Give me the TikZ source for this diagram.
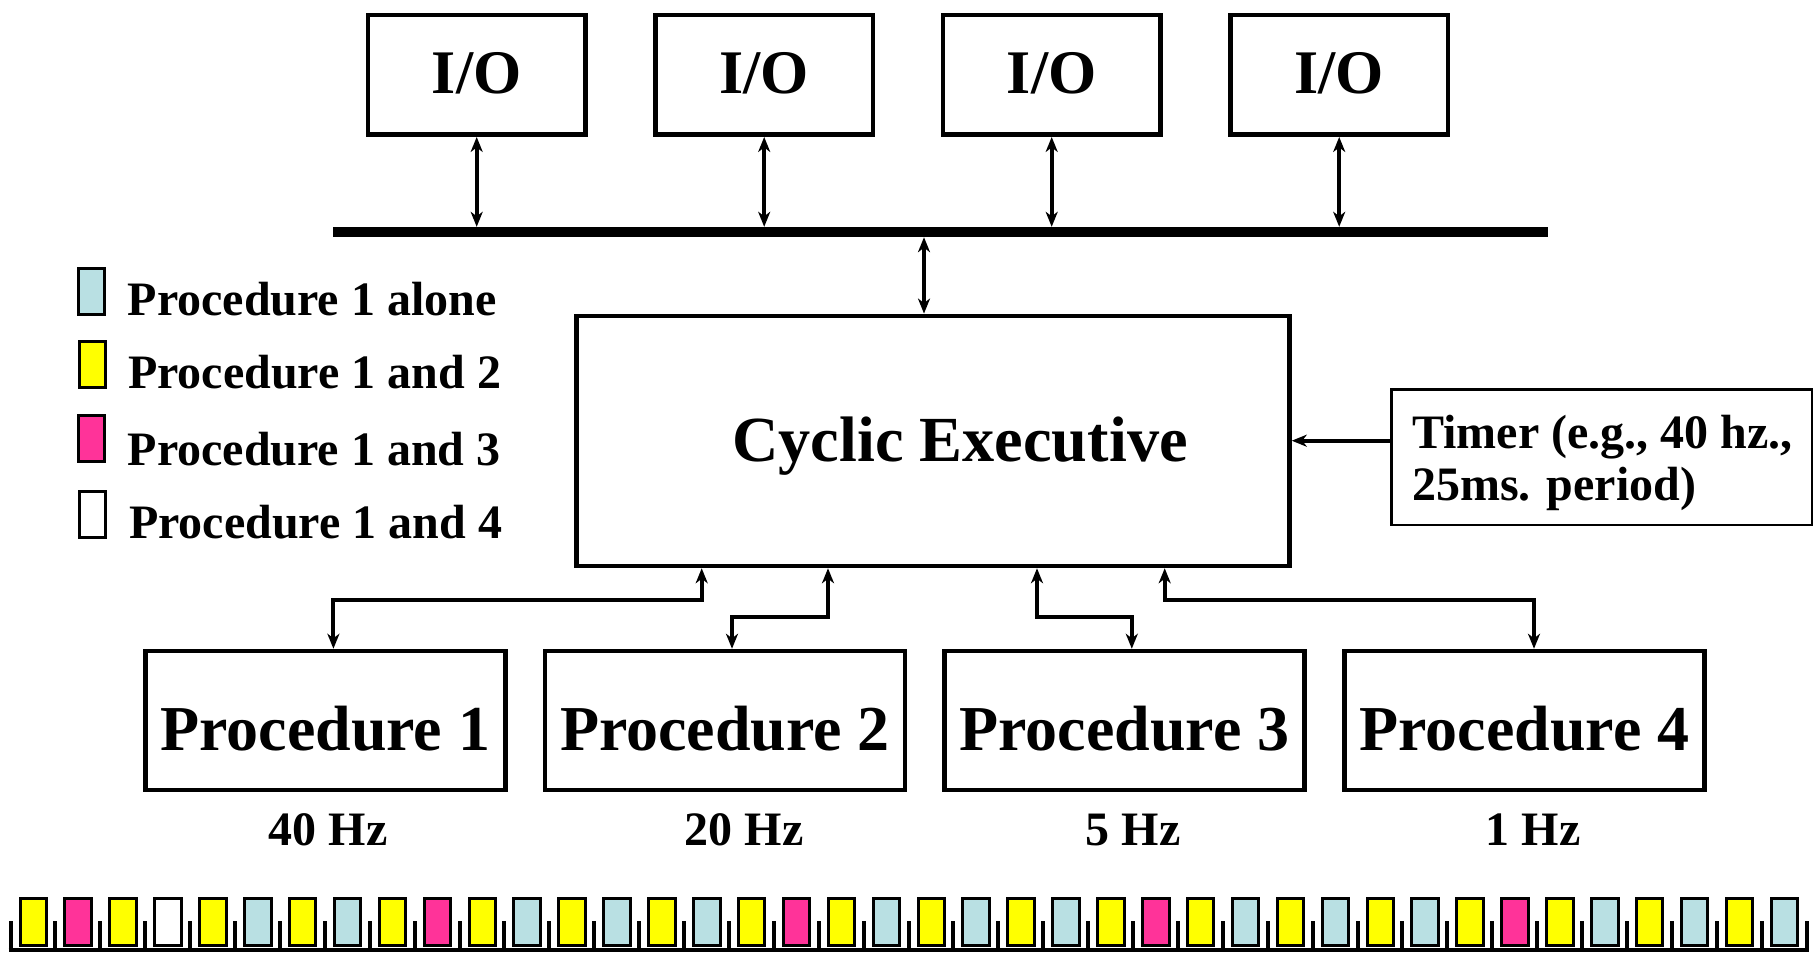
\documentclass[tikz,border=0pt]{standalone}
\usepackage{fontspec}
\setmainfont{Liberation Serif}
\usetikzlibrary{arrows.meta}
\definecolor{pc}{RGB}{185,224,227}
\definecolor{py}{RGB}{255,255,0}
\definecolor{pm}{RGB}{255,51,153}
\newcommand\iofnt{\fontsize{62pt}{66pt}\selectfont\bfseries}
\newcommand\bigfnt{\fontsize{64pt}{70pt}\selectfont\bfseries}
\newcommand\cefnt{\fontsize{64.3pt}{70pt}\selectfont\bfseries}
\newcommand\midfnt{\fontsize{48pt}{54pt}\selectfont\bfseries}
\tikzset{
  box/.style={draw, line width=4.5pt, inner sep=0pt},
  tboxst/.style={draw, line width=2.5pt, inner sep=0pt},
  lgsq/.style={draw, line width=3pt, inner sep=0pt, minimum width=26pt, minimum height=46pt},
  trect/.style={draw, line width=3pt},
  tip/.tip={Stealth[length=15pt,width=12pt,inset=4.5pt]},
  dbl/.style={line width=4pt, tip-tip},
  arr/.style={line width=4pt, -tip},
  lbl/.style={inner sep=0pt, anchor=base west, font=\midfnt},
  freq/.style={inner sep=0pt, anchor=base, font=\midfnt}
}
\begin{document}
\begin{tikzpicture}[x=1pt,y=-1pt]
\useasboundingbox (0,0) rectangle (1818,954);
% I/O boxes
\foreach \n/\x in {1/476.7,2/764.2,3/1051.7,4/1339.2}
  \node[box, minimum width=217.7pt, minimum height=119.7pt, font=\iofnt,
        text height=37pt, text depth=0pt] (io\n) at (\x,74.85) {I/O};
% bus
\node[fill=black, inner sep=0pt, minimum width=1215pt, minimum height=10pt] (bus) at (940.25,232) {};
\foreach \n in {1,2,3,4}
  \draw[dbl] (io\n.south) -- (io\n.south |- bus.north);
% cyclic executive
\node[box, minimum width=713pt, minimum height=250.2pt] (ce) at (933,440.9) {};
\node[inner sep=0pt, anchor=base, font=\cefnt] (cetext) at (960,461) {Cyclic Executive};
\coordinate (cx) at (924,0);
\draw[dbl] (bus.south -| cx) -- (ce.north -| cx);
% timer
\node[tboxst, minimum width=420.5pt, minimum height=135.7pt] (tbox) at (1601.75,457.15) {};
\node[lbl] (t1) at (1412,448.3) {Timer (e.g., 40 hz.,};
\node[lbl] (t2) at (1412,500) {25ms. period)};
\coordinate (ta) at (0,440.7);
\draw[arr] (tbox.west |- ta) -- (ce.east |- ta);
% legend
\node[lgsq, fill=pc] (lg1) at (91.3,291.5) {};
\node[lgsq, fill=py] (lg2) at (92.2,364.8) {};
\node[lgsq, fill=pm] (lg3) at (91.3,438.8) {};
\node[lgsq, fill=white] (lg4) at (92.7,514.4) {};
\node[lbl] (lt1) at (127.5,315.3) {Procedure 1 alone};
\node[lbl] (lt2) at (128,388.6) {Procedure 1 and 2};
\node[lbl] (lt3) at (127.5,465) {Procedure 1 and 3};
\node[lbl] (lt4) at (129,538.6) {Procedure 1 and 4};
% procedures
\foreach \n/\x in {1/325.25,2/725,3/1124.6,4/1524.5}
  \node[box, minimum width=360pt, minimum height=139pt, font=\bigfnt,
        text height=59pt, text depth=0pt] (p\n) at (\x,720.5) {Procedure \n};
\node[freq] (f1) at (328,845) {40 Hz};
\node[freq] (f2) at (744,845) {20 Hz};
\node[freq] (f3) at (1133,845) {5 Hz};
\node[freq] (f4) at (1533,845) {1 Hz};
% connectors CE - procedures
\coordinate (a1) at (701.7,600);  \coordinate (b1) at (333.4,600);
\coordinate (a2) at (828,616.7);  \coordinate (b2) at (732,616.7);
\coordinate (a3) at (1037,616.7); \coordinate (b3) at (1131.8,616.7);
\coordinate (a4) at (1164.7,600); \coordinate (b4) at (1534,600);
\foreach \n in {1,2,3,4}
  \draw[dbl, line join=miter] (ce.south -| a\n) -- (a\n) -- (b\n) -- (p\n.north -| b\n);
% timeline
\foreach \c [count=\i from 0] in {py,pm,py,white,py,pc,py,pc,py,pm,py,pc,py,pc,py,pc,py,pm,py,pc,py,pc,py,pc,py,pm,py,pc,py,pc,py,pc,py,pm,py,pc,py,pc,py,pc}
  \draw[trect, fill=\c] ({10.5+44.9*\i+9.5},898.5) rectangle ++(26.5,47);
\foreach \i in {0,...,40}
  \draw[line width=4pt] ({10.5+44.9*\i},921) -- ({10.5+44.9*\i},951.5);
\draw[line width=3.5pt] (8.5,950) -- ({10.5+44.9*40+2},950);
\end{tikzpicture}
\end{document}
